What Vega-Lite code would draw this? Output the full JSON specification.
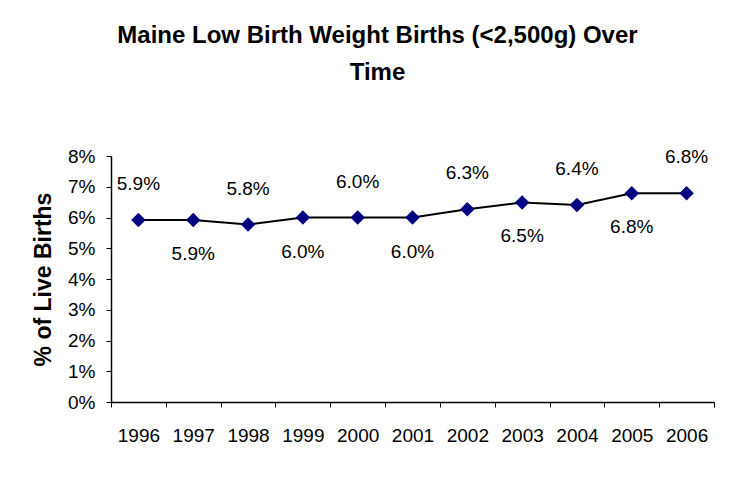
{
  "$schema": "https://vega.github.io/schema/vega-lite/v6.json",
  "width": 603,
  "height": 246,
  "autosize": {"type": "none"},
  "padding": {"left": 111, "top": 156, "right": 29, "bottom": 84},
  "background": "white",
  "title": {
    "text": ["Maine Low Birth Weight Births (<2,500g) Over", "Time"],
    "font": "Liberation Sans",
    "fontSize": 24,
    "fontWeight": "bold",
    "color": "black",
    "anchor": "middle",
    "dx": -35,
    "lineHeight": 37,
    "offset": 62
  },
  "data": {
    "values": [
      {"year": "1996", "pct": 0.0592},
      {"year": "1997", "pct": 0.0592},
      {"year": "1998", "pct": 0.0577},
      {"year": "1999", "pct": 0.0600},
      {"year": "2000", "pct": 0.0600},
      {"year": "2001", "pct": 0.0600},
      {"year": "2002", "pct": 0.0627},
      {"year": "2003", "pct": 0.0649},
      {"year": "2004", "pct": 0.0641},
      {"year": "2005", "pct": 0.0679},
      {"year": "2006", "pct": 0.0679}
    ]
  },
  "encoding": {
    "x": {
      "field": "year",
      "type": "ordinal",
      "scale": {"paddingInner": 0, "paddingOuter": 0},
      "axis": {
        "title": null,
        "labelAngle": 0,
        "labelFont": "Liberation Sans",
        "labelFontSize": 19,
        "labelColor": "black",
        "labelPadding": 19,
        "tickBand": "extent",
        "tickSize": 5,
        "tickColor": "black",
        "domainColor": "black",
        "domainWidth": 1.5
      }
    },
    "y": {
      "field": "pct",
      "type": "quantitative",
      "scale": {"domain": [0, 0.08], "nice": false},
      "axis": {
        "title": "% of Live Births",
        "titleFont": "Liberation Sans",
        "titleFontSize": 23,
        "titleFontWeight": "bold",
        "titleColor": "black",
        "titlePadding": 12,
        "values": [0, 0.01, 0.02, 0.03, 0.04, 0.05, 0.06, 0.07, 0.08],
        "format": ".0%",
        "labelFont": "Liberation Sans",
        "labelFontSize": 19,
        "labelColor": "black",
        "labelPadding": 11,
        "tickSize": 5,
        "tickColor": "black",
        "domainColor": "black",
        "domainWidth": 1.5,
        "grid": false
      }
    }
  },
  "layer": [
    {"mark": {"type": "line", "color": "black", "strokeWidth": 2}},
    {"mark": {"type": "point", "shape": "diamond", "filled": true, "color": "#000080", "size": 210, "opacity": 1}},
    {
      "transform": [{"filter": {"field": "year", "oneOf": ["1996", "1998", "2000", "2002", "2004", "2006"]}}],
      "mark": {"type": "text", "font": "Liberation Sans", "fontSize": 19, "color": "black", "dy": -36, "baseline": "middle"},
      "encoding": {"text": {"field": "pct", "type": "quantitative", "format": ".1%"}}
    },
    {
      "transform": [{"filter": {"field": "year", "oneOf": ["1997", "1999", "2001", "2003", "2005"]}}],
      "mark": {"type": "text", "font": "Liberation Sans", "fontSize": 19, "color": "black", "dy": 34, "baseline": "middle"},
      "encoding": {"text": {"field": "pct", "type": "quantitative", "format": ".1%"}}
    }
  ],
  "config": {"view": {"stroke": null}}
}
